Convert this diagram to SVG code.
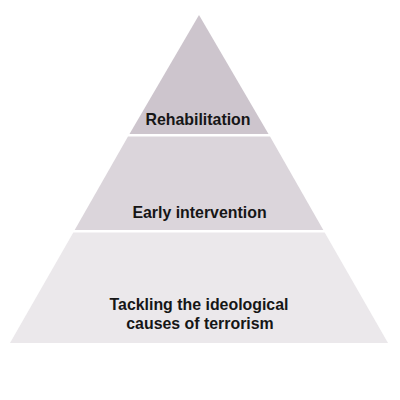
<svg xmlns="http://www.w3.org/2000/svg" width="400" height="400" viewBox="0 0 400 400">
<style>
.lbl{font-family:"Liberation Sans",Arial,sans-serif;font-weight:bold;font-size:15.9px;fill:#161616;text-anchor:middle}
</style>
<rect width="400" height="400" fill="#ffffff"/>
<g id="tier-top">
<polygon points="199,15 268.5,134 129.5,134" fill="#cdc5cd"/>
<text class="lbl" x="198" y="125">Rehabilitation</text>
</g>
<g id="tier-middle">
<polygon points="128,136.5 270,136.5 323.3,230 74.7,230" fill="#dbd5db"/>
<text class="lbl" x="199.5" y="218">Early intervention</text>
</g>
<g id="tier-bottom">
<polygon points="73.3,232.5 324.7,232.5 388,343 10,343" fill="#ebe8eb"/>
<text class="lbl" x="199" y="310">Tackling the ideological</text>
<text class="lbl" x="200" y="329">causes of terrorism</text>
</g>
<g id="connectors"></g>
</svg>
